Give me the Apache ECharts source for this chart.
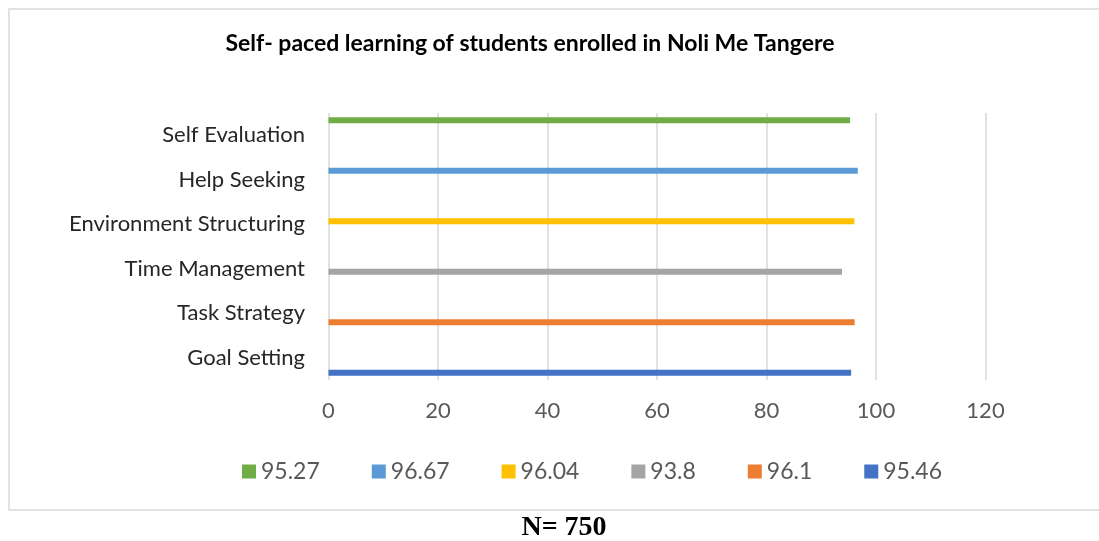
<!DOCTYPE html>
<html>
<head>
<meta charset="utf-8">
<script src="https://cdn.jsdelivr.net/npm/echarts@6/dist/echarts.min.js"></script>
<style>
html,body{margin:0;padding:0;background:#fff;}
#chart{width:1099px;height:541px;}
</style>
</head>
<body>
<div id="chart"></div>
<script>
// Categories bottom-to-top as drawn on the y axis
const categories = ['Goal Setting', 'Task Strategy', 'Time Management', 'Environment Structuring', 'Help Seeking', 'Self Evaluation'];
// One series per category (series names are the values, as in the legend)
const seriesNames = ['95.27', '96.67', '96.04', '93.8', '96.1', '95.46'];
const seriesCategory = ['Self Evaluation', 'Help Seeking', 'Environment Structuring', 'Time Management', 'Task Strategy', 'Goal Setting'];
const seriesValues = [95.27, 96.67, 96.04, 93.8, 96.1, 95.46];
const seriesColors = ['#70AD47', '#5B9BD5', '#FFC000', '#A5A5A5', '#ED7D31', '#4472C4'];
const xTicks = [0, 20, 40, 60, 80, 100, 120];

const chart = echarts.init(document.getElementById('chart'), null, {renderer: 'canvas'});

const series = seriesNames.map((name, i) => ({
  name: name,
  type: 'bar',
  barWidth: 6,
  barGap: '0%',
  itemStyle: {color: seriesColors[i]},
  data: categories.map(c => c === seriesCategory[i] ? seriesValues[i] : '-')
}));

chart.setOption({
  animation: false,
  graphic: [
    {type: 'rect', shape: {x: 9, y: 9, width: 1100, height: 501}, style: {fill: 'none', stroke: '#d9d9d9', lineWidth: 1.5}, z: -1},
    {type: 'text', x: 530, y: 44, style: {text: 'Self- paced learning of students enrolled in Noli Me Tangere', font: 'bold 23px Lato, "Open Sans", sans-serif', fill: '#000', textAlign: 'center', textVerticalAlign: 'middle'}},
    {type: 'text', x: 564, y: 528, style: {text: 'N= 750', font: 'bold 28px "Liberation Serif", "DejaVu Serif", serif', fill: '#000', textAlign: 'center', textVerticalAlign: 'middle'}}
  ],
  grid: {left: 328.5, right: 113.5, top: 113, bottom: 161, containLabel: false},
  legend: {
    data: seriesNames,
    left: 237,
    top: 455,
    itemWidth: 14,
    itemHeight: 14,
    itemGap: 52,
    icon: 'rect',
    textStyle: {fontFamily: 'Lato, "Open Sans", sans-serif', fontSize: 23, color: '#595959'}
  },
  xAxis: {
    type: 'value',
    min: 0, max: 120, interval: 20,
    axisLine: {show: false},
    axisTick: {show: false},
    splitLine: {show: true, lineStyle: {color: '#d9d9d9', width: 1.5}},
    axisLabel: {margin: 20, fontSize: 22, color: '#595959', fontFamily: 'Lato, "Open Sans", sans-serif',
      formatter: v => xTicks.includes(v) ? String(v) : ''}
  },
  yAxis: {
    type: 'category',
    data: categories,
    axisLine: {show: false},
    axisTick: {show: false},
    splitLine: {show: false},
    axisLabel: {margin: 23.5, fontSize: 22, color: '#262626', fontFamily: 'Lato, "Open Sans", sans-serif'}
  },
  series: series
});
</script>
</body>
</html>
